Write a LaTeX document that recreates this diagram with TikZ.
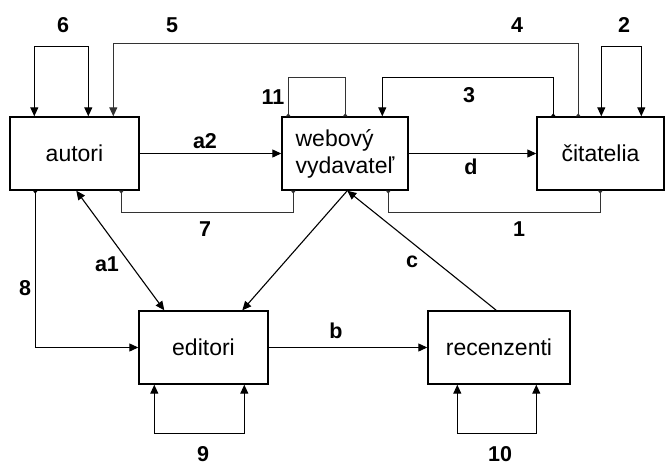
\documentclass[tikz,border=0pt]{standalone}
\usepackage{fontspec}
\setmainfont{Liberation Sans}
\usetikzlibrary{arrows.meta}
\begin{document}
\begin{tikzpicture}[x=1pt,y=-1pt,
  box/.style={draw,line width=1.4pt,minimum height=73pt,inner sep=0pt,font=\fontsize{23}{27}\selectfont},
  lbl/.style={font=\fontsize{21.5}{24}\selectfont\bfseries,inner sep=0pt},
  conn/.style={line width=1.1pt},
  thin/.style={line width=1.1pt,draw=black!80},
  big/.style={-{Triangle[length=9pt,width=8pt]}},
  both/.style={{Triangle[length=9pt,width=8pt]}-{Triangle[length=9pt,width=8pt]}},
  sm/.style={{Triangle[length=3pt,width=4.5pt,reversed]}-{Triangle[length=3pt,width=4.5pt,reversed]}},
  smbig/.style={{Triangle[length=3pt,width=4.5pt,reversed]}-{Triangle[length=9pt,width=8pt]}}
]
\useasboundingbox (0,0) rectangle (665,466);
% boxes
\node[box,minimum width=129pt] (aut) at (74.5,153.5) {autori};
\node[box,minimum width=126pt,align=left] (web) at (345,153.5) {webový\\vydavateľ};
\node[box,minimum width=127pt] (cit) at (600.5,153.5) {čitatelia};
\node[box,minimum width=129pt] (edi) at (203.5,347.5) {editori};
\node[box,minimum width=142pt] (rec) at (499,347.5) {recenzenti};
% horizontal arrows
\draw[conn,big] (aut.east) -- (web.west);
\draw[conn,big] (web.east) -- (cit.west);
\draw[conn,big] (edi.east) -- (rec.west);
% loops
\draw[conn,both] ([xshift=25pt]aut.north west) -- ++(0,-70) -| ([xshift=79pt]aut.north west);
\draw[conn,both] ([xshift=65pt]cit.north west) -- ++(0,-70) -| ([xshift=105pt]cit.north west);
\draw[thin,sm] ([xshift=7pt]web.north west) -- ++(0,-39) -| ([xshift=64pt]web.north west);
\draw[conn,both] ([xshift=16pt]edi.south west) -- ++(0,49) -| ([xshift=106pt]edi.south west);
\draw[conn,both] ([xshift=30pt]rec.south west) -- ++(0,49) -| ([xshift=109pt]rec.south west);
% long feedback lines
\draw[thin,smbig] ([xshift=42pt]cit.north west) -- ++(0,-73) -| ([xshift=104pt]aut.north west);
\draw[conn,smbig] ([xshift=17pt]cit.north west) -- ++(0,-39) -| ([xshift=101pt]web.north west);
\draw[thin,sm] ([xshift=112pt]aut.south west) -- ++(0,22) -| ([xshift=12pt]web.south west);
\draw[thin,sm] ([xshift=107pt]web.south west) -- ++(0,22) -| ([xshift=64pt]cit.south west);
\draw[conn,smbig] ([xshift=26pt]aut.south west) |- (edi.west);
% diagonals
\draw[conn,both] ([xshift=67pt]aut.south west) -- ([xshift=26pt]edi.north west);
\draw[conn,big] ([xshift=66pt]web.south west) -- ([xshift=104pt]edi.north west);
\draw[conn,big] ([xshift=69pt]rec.north west) -- ([xshift=66pt]web.south west);
% labels
\node[lbl] (l6) at (63,25) {6};
\node[lbl] (l5) at (172,25) {5};
\node[lbl] (l4) at (517,25) {4};
\node[lbl] (l2) at (624,25) {2};
\node[lbl] (l11) at (273,97) {11};
\node[lbl] (l3) at (469,95) {3};
\node[lbl] (la2) at (205,141) {a2};
\node[lbl] (ld) at (471,167) {d};
\node[lbl] (l7) at (205,229) {7};
\node[lbl] (l1) at (519,229) {1};
\node[lbl] (l8) at (25,288) {8};
\node[lbl] (la1) at (107,264) {a1};
\node[lbl] (lc) at (412,262) {c};
\node[lbl] (lb) at (336,331) {b};
\node[lbl] (l9) at (203,454) {9};
\node[lbl] (l10) at (500,454) {10};
\end{tikzpicture}
\end{document}
